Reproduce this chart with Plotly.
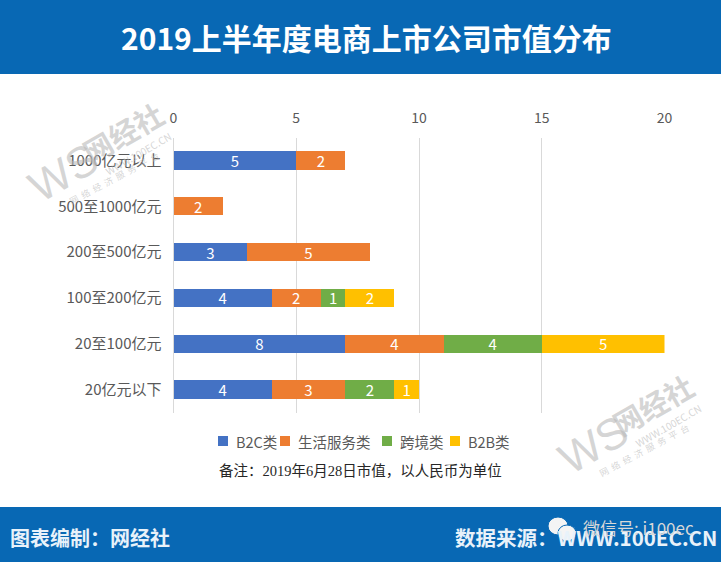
import plotly.graph_objects as go

categories = ["1000亿元以上", "500至1000亿元", "200至500亿元", "100至200亿元", "20至100亿元", "20亿元以下"]
series_names = ["B2C类", "生活服务类", "跨境类", "B2B类"]
colors = ["#4472C4", "#ED7D31", "#70AD47", "#FFC000"]

# bar lengths as drawn
b2c = [5, None, 3, 4, 7, 4]
life = [2, 2, 5, 2, 4, 3]
cross = [None, None, None, 1, 4, 2]
b2b = [None, None, None, 2, 5, 1]

# printed labels, the 20至100亿元 blue bar says 8 but is drawn to 7
b2c_labels = ["5", "", "3", "4", "8", "4"]
life_labels = ["2", "2", "5", "2", "4", "3"]
cross_labels = ["", "", "", "1", "4", "2"]
b2b_labels = ["", "", "", "2", "5", "1"]

x_ticks = [0, 5, 10, 15, 20]

W = 721
H = 562
CJK = "Noto Sans CJK SC"

fig = go.Figure()
rows = zip(series_names, [b2c, life, cross, b2b], [b2c_labels, life_labels, cross_labels, b2b_labels], colors)
for name, vals, labels, color in rows:
    fig.add_trace(go.Bar(
        y=categories, x=vals, name=name, orientation="h",
        marker=dict(color=color, line_width=0),
        text=labels, textposition="inside", insidetextanchor="middle",
        textangle=0, constraintext="none",
        textfont=dict(family=CJK, size=15, color="white"),
        cliponaxis=False, showlegend=False,
    ))


def px_rect(x0, y0, x1, y1, color, kind="rect", line=0, line_color="white"):
    fig.add_shape(type=kind, xref="paper", yref="paper", x0=x0 / W, x1=x1 / W,
                  y0=1 - y1 / H, y1=1 - y0 / H, fillcolor=color,
                  line=dict(width=line, color=line_color), layer="below" if kind == "rect" else "above")


def px_text(x, y, text, size, color, family=CJK, anchor="center", angle=0):
    fig.add_annotation(xref="paper", yref="paper", x=x / W, y=1 - y / H, text=text,
                       showarrow=False, xanchor=anchor, yanchor="middle", textangle=angle,
                       font=dict(family=family, size=size, color=color))


# watermarks go first so the chart text sits over them
wm = "rgba(185,185,185,0.6)"
for dx, dy in [(-530, -272), (0, 0)]:
    px_text(593 + dx, 445 + dy, "WS", 44, wm, family="Liberation Sans", angle=-30)
    px_text(652 + dx, 404 + dy, "<b>网经社</b>", 29, wm, angle=-30)
    px_text(668 + dx, 425 + dy, "WWW.100EC.CN", 10, wm, angle=-30)
    px_text(644 + dx, 450 + dy, "网  络  经  济  服  务  平  台", 9, wm, angle=-28)

# header and footer bands
px_rect(0, 0, W, 74, "#0868B4")
px_rect(0, 507, W, H, "#0868B4")

px_text(366.5, 37, "<b>2019上半年度电商上市公司市值分布</b>", 30, "white")
px_text(8, 537, "<b>图表编制：网经社</b>", 20, "#E8F2FA", anchor="left")
px_text(453, 537, "<b>数据来源：WWW.100EC.CN</b>", 20.5, "#E8F2FA", anchor="left")

# wechat stamp over the footer
px_rect(548, 517, 568, 535, "#F4F4F4", kind="circle", line=1, line_color="#0868B4")
px_rect(558, 525, 576, 541, "#F4F4F4", kind="circle", line=1, line_color="#0868B4")
px_text(581, 527, "微信号: i100ec", 17, "#D8D8D8", anchor="left")

px_text(360, 471, "备注：2019年6月28日市值，以人民币为单位", 14.5, "#262626",
        family="Liberation Serif, Noto Sans CJK SC")

# legend row, swatches and names laid out by hand to keep the tight spacing
legend_x = [218, 280, 382, 450]
for name, color, lx in zip(series_names, colors, legend_x):
    px_rect(lx, 436, lx + 10, 446, color)
    px_text(lx + 16, 441, name, 14.5, "#595959", anchor="left")

fig.update_layout(
    width=W, height=H, margin=dict(l=0, r=0, t=0, b=0, autoexpand=False),
    barmode="stack", bargap=0.6, showlegend=False,
    paper_bgcolor="white", plot_bgcolor="white",
    font=dict(family=CJK, size=15, color="#595959"),
    xaxis=dict(domain=[173.5 / W, 664.5 / W], side="top", range=[0, 20], tickvals=x_ticks,
               showgrid=True, gridcolor="#D9D9D9", gridwidth=1, zeroline=False, showline=False,
               ticks="outside", ticklen=8, tickcolor="rgba(0,0,0,0)", tickfont=dict(size=14)),
    yaxis=dict(domain=[1 - 412.5 / H, 1 - 137.5 / H], autorange="reversed", showgrid=False,
               zeroline=False, showline=True, linecolor="#D9D9D9", linewidth=1,
               ticks="outside", ticklen=8, tickcolor="rgba(0,0,0,0)", tickfont=dict(size=15)),
)

fig.write_html("out.html", config={"displayModeBar": False},
               post_script="document.body.style.margin='0';document.body.style.overflow='hidden';")
